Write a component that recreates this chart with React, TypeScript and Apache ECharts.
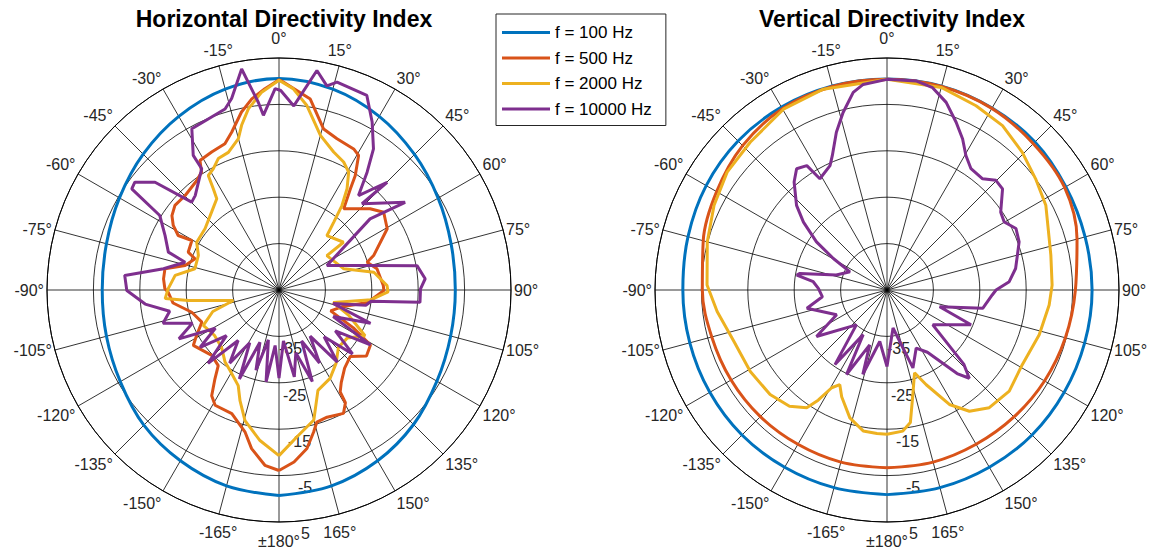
import React, { useEffect, useRef } from "react";
import * as echarts from "echarts";

// ---------- data (angle in degrees, clockwise from front; value in dB) ----------
const seriesNames = ["f = 100 Hz", "f = 500 Hz", "f = 2000 Hz", "f = 10000 Hz"];
const seriesColors = ["#0072BD", "#D95319", "#EDB120", "#7E2F8E"];
const plotTitles = ["Horizontal Directivity Index", "Vertical Directivity Index"];
const radiusMin = -45;
const radiusMax = 5;
const radiusStep = 10;
const angleStep = 15;

const hBlue: number[][] = [
  [-180, -0.7], [-165, -1.3], [-150, -2.5], [-135, -3.8], [-120, -5.5], [-105, -6.5], [-90, -6.9],
  [-75, -6.5], [-60, -5.3], [-45, -3.6], [-30, -1.8], [-15, -0.2], [0, 0.6], [15, -0.2], [30, -1.8],
  [45, -3.7], [60, -5.4], [75, -6.6], [90, -7.0], [105, -6.7], [120, -5.7], [135, -4.0], [150, -2.5],
  [165, -1.3], [180, -0.7],
];

const hOrange: number[][] = [
  [-180, -6.1], [-175.4, -7.1], [-170.2, -10.3], [-166.6, -13.5], [-159.1, -16.5], [-151, -16.6],
  [-147.5, -18], [-144.2, -21.4], [-141.2, -24.1], [-134.2, -24.8], [-122.9, -23], [-118.9, -24.7],
  [-112.6, -27], [-104.3, -25.6], [-97, -22], [-91.1, -21.1], [-89.4, -20.4], [-84.5, -20], [-79.5, -20],
  [-75.4, -24.1], [-69.6, -25.7], [-67.4, -23.8], [-60.4, -23.4], [-61.6, -20.3], [-58.6, -18.3],
  [-55.2, -16.9], [-50.9, -16.1], [-44.8, -16.3], [-36.9, -15.5], [-33.3, -14.6], [-31.4, -12.3],
  [-26, -11.9], [-20.3, -11.4], [-16.7, -9.5], [-11.9, -5.8], [-8.1, -3.4], [-4, -1.5], [0, 0.3],
  [1.3, -0.2], [9.3, -3.3], [15.5, -9], [21, -10.1], [27.9, -10.6], [30.6, -11.3], [33.7, -15.4],
  [35.2, -18.3], [38.5, -22.6], [48.3, -18.7], [53.4, -16.9], [60.5, -18.2], [70, -23.3], [72.5, -25.1],
  [77.8, -23.4], [87.5, -22.5], [90.3, -22.4], [98, -25.7], [105, -31], [112, -33], [117, -27],
  [121, -22], [127, -21.4], [133, -24], [140, -23], [146, -21], [149, -19.4], [149.5, -16.8],
  [152.4, -15], [159.3, -15.7], [164, -15.4], [166.3, -13.5], [170, -10.3], [175, -7.8], [180, -6.1],
];

const hYellow: number[][] = [
  [-180, -9.3], [-172.8, -12.3], [-165.4, -15.9], [-160.6, -19.7], [-156.9, -22.6], [-148.7, -24.7],
  [-143.2, -25.6], [-135, -27.5], [-125, -28], [-115, -27], [-108, -30], [-103, -34.9], [-96.6, -25.3],
  [-94.3, -20.4], [-89.4, -21.1], [-82, -22.4], [-75.8, -26.3], [-66.8, -26.1], [-59.9, -24.5],
  [-50.4, -24.3], [-40.9, -22.8], [-34.3, -21.2], [-33, -19], [-31.7, -16], [-28.5, -15.3],
  [-24.8, -13.8], [-20.2, -13.4], [-15, -11.2], [-12.8, -8.6], [-9.6, -5.4], [-5, -2.2], [0, 0.2],
  [4, -1.5], [8.6, -4.8], [15, -10.5], [21.6, -13], [26.8, -14.1], [30.6, -15.5], [33.9, -18.7],
  [36.7, -22.3], [38.9, -26.2], [41.4, -29.4], [53.5, -27.7], [54.3, -32.3], [71.9, -30.3],
  [79.4, -24.2], [87.6, -21.7], [91, -21.5], [96, -25], [103, -33], [110, -29], [118, -24], [125, -27],
  [134, -27.2], [142, -25], [150, -23], [158.8, -21.8], [165, -16], [173.1, -13.1], [180, -9.3],
];

const hPurple: number[][] = [
  [-180, -26], [-176, -33], [-172, -25], [-168, -34], [-164, -27], [-160, -33], [-156, -24], [-151, -32],
  [-146, -26], [-141, -31], [-136, -23], [-131, -30], [-126, -24], [-121, -29], [-116, -21], [-111, -25],
  [-106, -19], [-101, -21], [-96, -16], [-90.2, -12.2], [-84.6, -11.6], [-79.6, -19.7], [-73.5, -23.9],
  [-71.1, -19.8], [-64.5, -17.8], [-58, -14.7], [-55.5, -6.5], [-53.2, -6.2], [-49, -9.6], [-44.8, -18.3],
  [-41.6, -17.8], [-32.5, -14], [-32.5, -10.6], [-28.4, -5.5], [-16.6, -4.3], [-13.9, -2.5], [-9.6, 3.3],
  [-6.3, -4.3], [-5.1, -7.2], [-1.1, -1.6], [0.5, -2.0], [4.6, -5.2], [9.8, 3.0], [13.2, 0.2],
  [15.6, 1.5], [24.3, 1.0], [29, -3.6], [33.8, -8.4], [36.8, -13.3], [40.1, -18.4], [45.1, -12.1],
  [43.9, -19.2], [55.2, -11.9], [52, -20.1], [63, -33.4], [74.4, -25.3], [80, -14.8], [85.6, -13.4],
  [89.5, -14.5], [95, -14.5], [97, -25], [100, -26], [104, -33], [110, -24], [116, -32], [121, -22],
  [126, -30], [131, -24], [136, -31], [141, -25], [146, -33], [151, -27], [156, -33], [160, -24],
  [165, -31], [170, -26], [175, -34], [180, -26],
];

const vBlue: number[][] = [
  [-180, -0.9], [-165, -0.9], [-150, -0.9], [-135, -0.8], [-120, -0.9], [-105, -1.0], [-90, -1.0],
  [-75, -0.6], [-60, 0.0], [-45, 0.4], [-30, 0.5], [-15, 0.5], [0, 0.5], [15, 0.5], [30, 0.3],
  [45, 0.1], [60, -0.5], [75, -0.8], [90, -0.8], [105, -0.9], [120, -0.9], [135, -0.8], [150, -0.9],
  [165, -0.9], [180, -0.9],
];

const vOrange: number[][] = [
  [-180, -6.7], [-165, -6.6], [-150, -6.6], [-135, -6.4], [-120, -6.2], [-105, -5.9], [-90, -5.2],
  [-75, -4.0], [-60, -2.6], [-45, -1.0], [-30, 0.1], [-15, 0.4], [0, 0.4], [15, 0.4], [30, 0.2],
  [45, -0.4], [60, -0.8], [75, -2.6], [90, -4.4], [105, -5.2], [120, -5.8], [135, -6.3], [150, -6.6],
  [165, -6.6], [180, -6.7],
];

const vYellow: number[][] = [
  [-180, -13.9], [-176, -14.0], [-170.4, -14.2], [-163.8, -16.3], [-157, -20], [-153.5, -22.2],
  [-150.5, -20.8], [-148, -17], [-145.7, -14.3], [-140, -12.3], [-131.8, -11.2], [-120.8, -10.7],
  [-108.6, -10.2], [-97.2, -8.1], [-88.4, -6.2], [-75, -4.9], [-63.9, -3.5], [-53.6, -2.2],
  [-42.8, -1.6], [-29.8, -0.1], [-17.6, 0.4], [0, 0.4], [15, 0.2], [25.8, -0.9], [35.1, -1.7],
  [44.5, -3.4], [53.2, -5.0], [61.9, -6.2], [78, -8.9], [88.3, -9.4], [95.3, -9.9], [106.4, -10.8],
  [118.9, -11.7], [129.6, -10.8], [139, -11.4], [145.8, -13.4], [151.4, -16.9], [157.5, -22.9],
  [161.6, -26.2], [166.1, -21.8], [170, -16], [173.6, -14.4], [180, -13.9],
];

const vPurple: number[][] = [
  [-180, -28.5], [-172, -33.8], [-164, -26.1], [-162.5, -32.6], [-154.4, -24.8], [-151.9, -34.1],
  [-145.1, -25.4], [-138.7, -35], [-123.4, -26.8], [-116.2, -32.9], [-102.8, -27.3], [-96, -31],
  [-88.6, -30.2], [-83.6, -29.0], [-80.6, -25.3], [-79.2, -25.9], [-73.5, -33.6], [-63.9, -36.1],
  [-59.6, -31.6], [-55.7, -26.6], [-50.9, -21.8], [-46.9, -18.3], [-40.7, -14.3], [-36.7, -12.4],
  [-32.8, -13.1], [-31.1, -17.0], [-24.6, -15.5], [-22.1, -13.7], [-17.8, -9.3], [-13.9, -5.6],
  [-9.7, -1.8], [-6.6, -0.4], [0, 0.4], [7.9, 0.5], [12.7, -0.3], [17.5, -2.6], [22.4, -5.9],
  [26.6, -8.6], [30.4, -11.4], [34.7, -13.2], [40.7, -13.4], [44.8, -11.7], [48.8, -11.9],
  [55.6, -15.3], [59.9, -15.8], [64.5, -14.2], [70, -14.7], [75, -15.9], [80.5, -16.9], [86.1, -18.6],
  [90, -21.5], [92.7, -22.3], [100.8, -24.0], [107.6, -33.1], [112.5, -25.4], [127.3, -32.6],
  [134, -22], [137, -19], [140, -21.5], [147, -29], [153.3, -31], [161.6, -27.3], [171, -36.7],
  [180, -28.5],
];

const plotData = [
  [hBlue, hOrange, hYellow, hPurple],
  [vBlue, vOrange, vYellow, vPurple],
];
const smoothFlags = [
  [true, false, false, false],
  [true, true, false, false],
];

const FONT = "'Liberation Sans', Arial, Helvetica, sans-serif";
const centers = [
  [279, 290],
  [887, 290],
];

// per-tick label offsets (style only): radius labels sit beyond their ring, drifting right
const radiusLabelStyles: Record<string, { padding: number[] }> = {
  r0: { padding: [25, 0, 0, 0] },
  r1: { padding: [25, 0, 0, 4] },
  r2: { padding: [25, 0, 0, 9] },
  r3: { padding: [23, 0, 0, 19] },
  r4: { padding: [22, 0, 0, 22] },
};
const radiusLabelKey: Record<number, string> = { [-35]: "r0", [-25]: "r1", [-15]: "r2", [-5]: "r3", [5]: "r4" };

function angleLabel(v: number) {
  if (v === 180) return "";
  if (v === -180) return "{bot|±180°}";
  if (v === 0) return "{top|0°}";
  if (Math.abs(v) === 15) return `{t15|${v}°}`;
  if (Math.abs(v) === 165) return `{b165|${v}°}`;
  if (Math.abs(v) === 150) return `{b150|${v}°}`;
  return `{n|${v}°}`;
}

function buildOption() {
  const series: any[] = [];
  plotData.forEach((group, pi) => {
    group.forEach((pts, si) => {
      series.push({
        type: "line",
        name: seriesNames[si],
        coordinateSystem: "polar",
        polarIndex: pi,
        data: pts.map(([a, v]) => [v, a]),
        symbol: "none",
        showSymbol: false,
        smooth: smoothFlags[pi][si] ? 0.35 : false,
        color: seriesColors[si],
        lineStyle: { color: seriesColors[si], width: 3 },
        z: 3 + si,
      });
    });
  });

  const labelText = { fontFamily: FONT, fontSize: 16, color: "#262626" };

  return {
    animation: false,
    backgroundColor: "#ffffff",
    title: plotTitles.map((t, i) => ({
      text: t,
      left: centers[i][0],
      top: 2,
      textAlign: "center",
      textStyle: { fontFamily: FONT, fontSize: 23, fontWeight: "bold", color: "#000" },
    })),
    legend: {
      data: seriesNames,
      orient: "vertical",
      left: 496,
      top: 14,
      padding: [10, 14, 8, 6],
      icon: "rect",
      itemWidth: 48,
      itemHeight: 3,
      itemGap: 8.5,
      selectedMode: false,
      borderColor: "#262626",
      borderWidth: 1,
      backgroundColor: "#fff",
      textStyle: { fontFamily: FONT, fontSize: 17, lineHeight: 17, color: "#000" },
    },
    polar: centers.map((c) => ({ center: c, radius: 232 })),
    angleAxis: centers.map((_, i) => ({
      polarIndex: i,
      type: "value",
      min: -180,
      max: 180,
      interval: angleStep,
      startAngle: 270,
      clockwise: true,
      axisLine: { show: true, lineStyle: { color: "#000", width: 1 } },
      axisTick: { show: false },
      axisLabel: {
        show: true,
        margin: 3,
        ...labelText,
        formatter: angleLabel,
        rich: {
          n: { ...labelText },
          top: { ...labelText, padding: [0, 0, 9, 0] },
          t15: { ...labelText, padding: [0, 0, 5, 0] },
          bot: { ...labelText, padding: [8, 0, 0, 0] },
          b165: { ...labelText, padding: [8, 0, 0, 0] },
          b150: { ...labelText, padding: [2, 0, 0, 0] },
        },
      },
      splitLine: { show: true, lineStyle: { color: "#000", width: 0.8 } },
    })),
    radiusAxis: centers.map((_, i) => ({
      polarIndex: i,
      type: "value",
      min: radiusMin,
      max: radiusMax,
      interval: radiusStep,
      axisLine: { show: false },
      axisTick: { show: false },
      axisLabel: {
        show: true,
        margin: 0,
        align: "left",
        verticalAlign: "middle",
        ...labelText,
        formatter: (v: number) => (v === radiusMin ? "" : `{${radiusLabelKey[v]}|${v}}`),
        rich: Object.fromEntries(
          Object.entries(radiusLabelStyles).map(([k, s]) => [k, { ...labelText, ...s }])
        ),
      },
      splitLine: { show: true, lineStyle: { color: "#000", width: 0.8 } },
    })),
    series,
  };
}

export default function App() {
  const ref = useRef<HTMLDivElement>(null);
  useEffect(() => {
    if (!ref.current) return;
    const chart = echarts.init(ref.current, null, { renderer: "svg" });
    chart.setOption(buildOption() as any);
    return () => chart.dispose();
  }, []);
  return (
    <div
      ref={ref}
      style={{ position: "fixed", left: 0, top: 0, width: 1156, height: 556, background: "#fff" }}
    />
  );
}
